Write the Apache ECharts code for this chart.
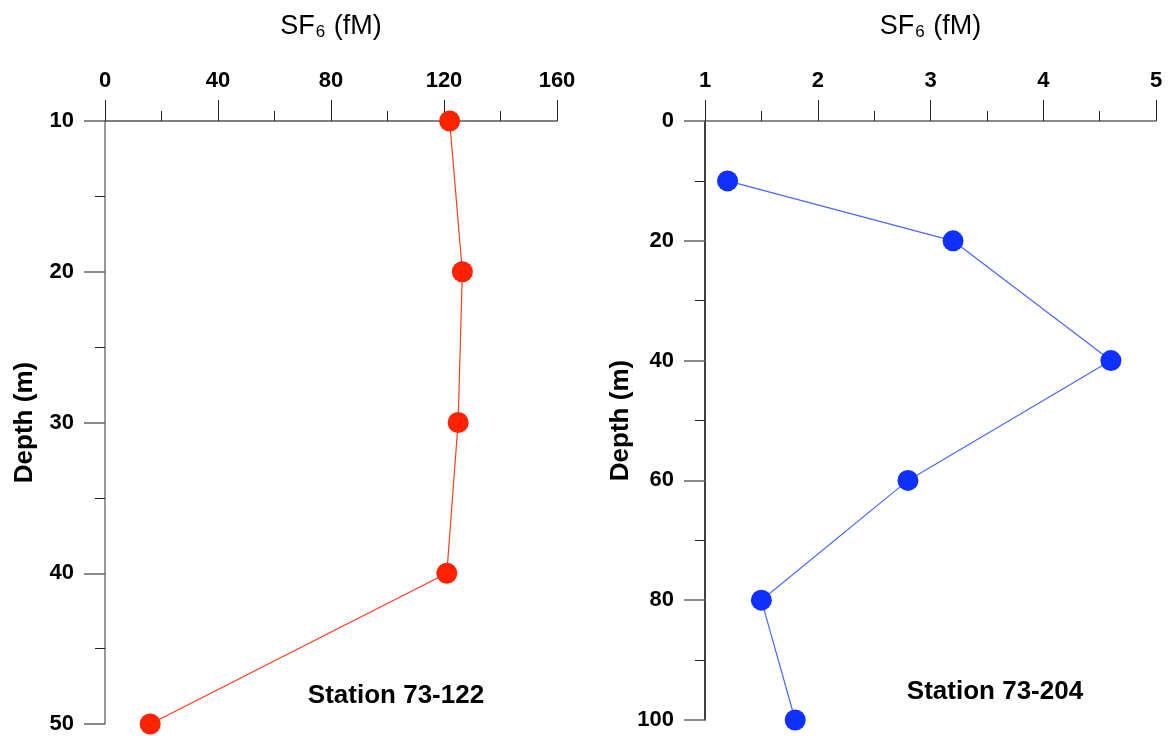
<!DOCTYPE html>
<html>
<head>
<meta charset="utf-8">
<script src="https://cdn.jsdelivr.net/npm/echarts@6/dist/echarts.min.js"></script>
<style>
  html, body { margin: 0; padding: 0; background: #fff; }
  #chart { width: 1169px; height: 736px; }
</style>
</head>
<body>
<div id="chart"></div>
<script>
// station 73-122
var depth122 = [10, 20, 30, 40, 50];
var sf6_122 = [122, 126.5, 125, 121, 16];
// station 73-204
var depth204 = [10, 20, 40, 60, 80, 100];
var sf6_204 = [1.2, 3.2, 4.6, 2.8, 1.5, 1.8];

var stationNames = ['Station 73-122', 'Station 73-204'];

function pairs(xs, ys) {
  var out = [];
  for (var i = 0; i < xs.length; i++) {
    out.push([xs[i], ys[i]]);
  }
  return out;
}

var myChart = echarts.init(document.getElementById('chart'));

var fontFam = 'Liberation Sans, Arial, sans-serif';

function xAxisFor(idx, min, max, interval, lineColor) {
  return {
    type: 'value',
    gridIndex: idx,
    position: 'top',
    min: min,
    max: max,
    interval: interval,
    name: '{a|SF}{s|6}{a| (fM)}',
    nameLocation: 'middle',
    nameGap: 80,
    nameTextStyle: {
      rich: {
        a: { fontSize: 27, fontFamily: fontFam, color: '#000' },
        s: { fontSize: 17, fontFamily: fontFam, color: '#000', padding: [12, 1, 0, 1] }
      }
    },
    axisLine: { show: true, lineStyle: { color: lineColor, width: 1.5 } },
    axisTick: { show: true, length: 21, lineStyle: { color: '#222', width: 1 } },
    minorTick: { show: true, splitNumber: 2, length: 10, lineStyle: { color: '#222', width: 1 } },
    axisLabel: { margin: 29, fontSize: 22, fontWeight: 'bold', color: '#000', fontFamily: fontFam },
    splitLine: { show: false }
  };
}

function yAxisFor(idx, min, max, interval, lineColor, gap) {
  return {
    type: 'value',
    gridIndex: idx,
    inverse: true,
    min: min,
    max: max,
    interval: interval,
    name: 'Depth (m)',
    nameLocation: 'middle',
    nameGap: gap,
    nameTextStyle: { fontSize: 26, fontWeight: 'bold', color: '#000', fontFamily: fontFam },
    axisLine: { show: true, lineStyle: { color: lineColor, width: 1.5 } },
    axisTick: { show: true, length: 21, lineStyle: { color: '#666', width: 1.5 } },
    minorTick: { show: true, splitNumber: 2, length: 10, lineStyle: { color: '#222', width: 1 } },
    axisLabel: { margin: 31, fontSize: 22, fontWeight: 'bold', color: '#000', fontFamily: fontFam },
    splitLine: { show: false }
  };
}

var option = {
  backgroundColor: '#fff',
  animation: false,
  grid: [
    { left: 105, top: 121, width: 452, height: 603 },
    { left: 705, top: 121, width: 451, height: 599 }
  ],
  xAxis: [
    xAxisFor(0, 0, 160, 40, '#555'),
    xAxisFor(1, 1, 5, 1, '#666')
  ],
  yAxis: [
    yAxisFor(0, 10, 50, 10, '#777', 67),
    yAxisFor(1, 0, 100, 20, '#000', 65)
  ],
  graphic: [
    {
      type: 'text', x: 396, y: 696,
      style: { text: stationNames[0], align: 'center', verticalAlign: 'middle',
               fontSize: 26, fontWeight: 'bold', fill: '#000', fontFamily: fontFam }
    },
    {
      type: 'text', x: 995, y: 692,
      style: { text: stationNames[1], align: 'center', verticalAlign: 'middle',
               fontSize: 26, fontWeight: 'bold', fill: '#000', fontFamily: fontFam }
    }
  ],
  series: [
    {
      name: stationNames[0],
      type: 'line',
      xAxisIndex: 0,
      yAxisIndex: 0,
      data: pairs(sf6_122, depth122),
      symbol: 'circle',
      symbolSize: 21,
      itemStyle: { color: '#ff2200' },
      lineStyle: { color: '#ff3a20', width: 1.2 },
      z: 3
    },
    {
      name: stationNames[1],
      type: 'line',
      xAxisIndex: 1,
      yAxisIndex: 1,
      data: pairs(sf6_204, depth204),
      symbol: 'circle',
      symbolSize: 21,
      itemStyle: { color: '#1030ff' },
      lineStyle: { color: '#4a66ff', width: 1.2 },
      z: 3
    }
  ]
};

myChart.setOption(option);
</script>
</body>
</html>
